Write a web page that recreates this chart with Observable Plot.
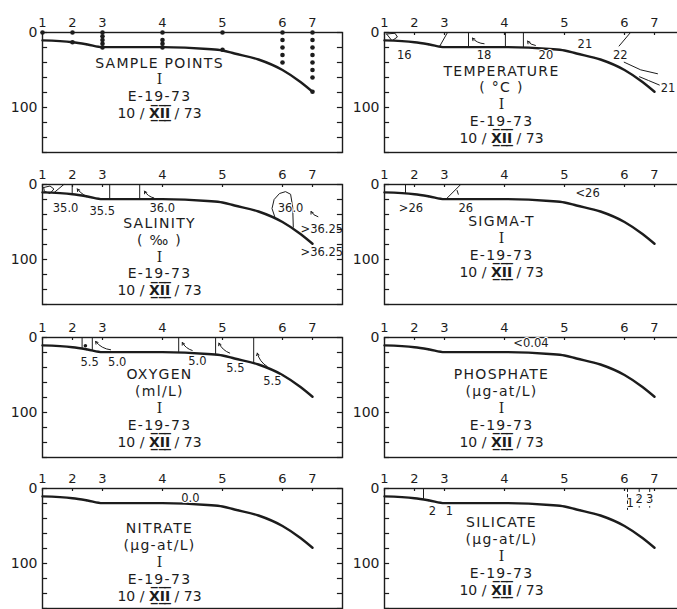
<!DOCTYPE html>
<html><head><meta charset="utf-8">
<script src="https://cdn.jsdelivr.net/npm/d3@7"></script>
<script src="https://cdn.jsdelivr.net/npm/@observablehq/plot@0.6"></script>
<style>
body{margin:0;background:#fff;}
#wrap{position:relative;width:677px;height:609px;overflow:hidden;background:#fff;}
#wrap svg{position:absolute;overflow:visible;}
</style></head><body><div id="wrap"></div>
<script>
// ---- data ----
const stationLabels = ["1","2","3","4","5","6","7"];
const stationDist = [0,10,20,40,60,80,90];
const depthTicks = [0,20,40,60,80,100,120,140,160];
const depthLabels = [0,100];
const bottomDist  = [0,10,15,20,40,55,60,64,72,80,86,90];
const bottomDepth = [10.5,13,16,19.5,19.5,22,24,28,36,50,66,79];

const panelTitles = ["SAMPLE POINTS","TEMPERATURE","SALINITY","SIGMA-T","OXYGEN","PHOSPHATE","NITRATE","SILICATE"];
const panelUnits  = ["","( °C )","( ‰ )","","(ml/L)","(μg-at/L)","(μg-at/L)","(μg-at/L)"];
const cruiseMark = "I";
const cruiseId = "E-19-73";
const cruiseDateParts = ["10 / ","X\u0332\u0305I\u0332\u0305I\u0332\u0305"," / 73"];
const cruiseDate = cruiseDateParts.join("");

// sample points: [station index, depth]
const sampleStation = [0, 1,1, 2,2,2,2,2, 3,3,3,3, 4,4, 5,5,5,5,5, 6,6,6,6,6,6,6,6];
const sampleDepth   = [0, 0,13, 0,5,10,15,20, 0,10,15,20, 0,23, 0,10,20,30,40, 0,10,20,30,40,50,60,79];

// temperature
const tempLines = [
  [[0.7,2],[3.5,1],[4.3,6],[2.5,11],[0.7,2]],
  [[21,0],[18.3,19]],
  [[28,0],[28,19.5]],
  [[40.3,0],[40.3,19.5]],
  [[46.3,0],[46.3,20]],
  [[82,0],[78.2,18]],
  [[79.9,39.6],[85.4,49.8],[91,55]],
  [[85,59],[88,64],[91.6,70]]
];
const tempArrows = [[33.2,15,29.3,7.5],[50.3,17.3,47.7,11.6]];
const tempLabels = [["16",6.6,30.7],["18",33.2,30.7],["20",53.8,30.5],["21",66.8,16.4],["22",78.6,29.8],["21",94.5,73.8]];

// salinity
const salLines = [
  [[0.4,4],[2.5,2],[3.8,6],[2.5,12],[0.6,9],[0.4,4]],
  [[3.8,11],[7.1,0]],
  [[9.9,0],[9.9,13]],
  [[22.4,0],[22.4,19.5]],
  [[32.4,0],[32.4,19.5]],
  [[77.5,44],[76.5,32],[77.2,20],[79,12],[81,9.5],[82.7,13],[83.4,30],[83.6,57]]
];
const salArrows = [[16.6,17.9,11.6,5.9],[37.1,17.9,34,8.9],[91.8,43,89.5,36]];
const salLabels = [["35.0",7.7,32],["35.5",19.9,35.6],["36.0",39.9,32],["36.0",82.7,32]];
const salLabelsRight = [[">36.25",86,60],[">36.25",86,91]];

// sigma-t
const sigLines = [[[7,1],[7,12]],[[25.4,0],[20.4,20]],[[24.2,8],[24.6,13]]];
const sigLabels = [[">26",8.8,31.1],["26",27.1,31.1],["<26",67.7,11.1]];

// oxygen
const oxyLines = [[[13.2,0],[13.2,14]],[[16.6,0],[16.6,16]],[[45.4,0],[45.4,20]],[[57.7,0],[57.7,23]],[[70.4,0],[70.4,34]]];
const oxyArrows = [[22.7,16.4,17.7,5.3],[49.9,17.3,46.6,6.7],[62.4,20.8,58.8,7.5],[74.9,38.7,71.6,20.8]];
const oxyLabels = [["5.5",15.7,33.5],["5.0",24.9,33.5],["5.0",51.6,31.7],["5.5",64.3,40.8],["5.5",76.6,58.5]];

// phosphate / nitrate
const phoLabels = [["<0.04",48.8,8.4]];
const nitLabels = [["0.0",49.3,13.7]];

// silicate
const silLines = [[[13,0],[13,13]]];
const silDashed = [[[81,0],[81,30]],[[84.9,0],[84.9,25]],[[88.4,0],[88.4,25]]];
const silLabels = [["2",16,31],["1",21.6,31],["1",81.9,20.4],["2",84.9,15],["3",88.4,15]];

// ---- layout ----
const ink = "#1c1c1c";
const rowAxisY = [32, 184, 337, 488];
const colLeft = [0, 342];
const textTop = [31, 41.5, 42, 40, 40, 40, 44, 36];

const flat = ls => ls.flatMap((pts,g)=>pts.map(([x,y])=>({g,x,y})));
const arr = a => a.map(([x1,y1,x2,y2])=>({x1,y1,x2,y2}));
const lab = a => a.map(([t,x,y])=>({t,x,y}));
const bottom = bottomDist.map((d,i)=>({x:d,y:bottomDepth[i]}));

const extras = [
  {},
  {lines:tempLines, arrows:tempArrows, labels:tempLabels},
  {lines:salLines, arrows:salArrows, labels:salLabels, labelsStart:salLabelsRight},
  {lines:sigLines, labels:sigLabels},
  {lines:oxyLines, arrows:oxyArrows, labels:oxyLabels, dots:[[14.3,11]]},
  {labels:phoLabels},
  {labels:nitLabels},
  {lines:silLines, dashed:silDashed, labels:silLabels}
];

const wrap = document.getElementById("wrap");
panelTitles.forEach((title, i) => {
  const row = Math.floor(i/2), col = i%2;
  const ex = extras[i];
  const block = [title, panelUnits[i], cruiseMark, cruiseId, cruiseDate].filter(s=>s!=="").join("\n");
  const marks = [
    Plot.frame({stroke: ink, strokeWidth: 1.4}),
    Plot.axisX(stationDist, {anchor:"top", label: null, tickSize:0, tickPadding:6, fontSize:13,
      tickFormat: d => stationLabels[stationDist.indexOf(d)]}),
    Plot.axisY(depthLabels, {anchor:"left", label: null, tickSize:0, tickPadding:5, fontSize:14, tickFormat: d=>String(d)}),
    Plot.ruleY(depthTicks, {y: d=>d, x1: 0, x2: 1.7, stroke: ink, strokeWidth: 1.2}),
    Plot.ruleY(depthTicks, {y: d=>d, x1: 98.3, x2: 100, stroke: ink, strokeWidth: 1.2}),
    Plot.line(bottom, {x:"x", y:"y", stroke: ink, strokeWidth: 2.4, curve: "monotone-x"}),
    Plot.text([block], {x: 39, y: textTop[i], text: d=>d, lineAnchor:"top",
      fontSize: 14, lineHeight: 1.2, fill: ink})
  ];
  if (i === 0) {
    marks.push(Plot.dot(sampleStation.map((s,k)=>({x:stationDist[s], y:sampleDepth[k]})),
      {x:"x", y:"y", r:2.3, fill: ink, stroke: "none"}));
  } else {
    marks.push(Plot.ruleX(stationDist, {x:d=>d, y1:0, y2:4, stroke: ink, strokeWidth: 1.2}));
  }
  if (ex.lines) marks.push(Plot.line(flat(ex.lines), {x:"x", y:"y", z:"g", stroke: ink, strokeWidth: 1}));
  if (ex.dashed) marks.push(Plot.line(flat(ex.dashed), {x:"x", y:"y", z:"g", stroke: ink, strokeWidth: 1, strokeDasharray: "3,3"}));
  if (ex.arrows) marks.push(Plot.arrow(arr(ex.arrows), {x1:"x1", y1:"y1", x2:"x2", y2:"y2", bend: true, headLength: 4, stroke: ink, strokeWidth: 1}));
  if (ex.dots) marks.push(Plot.dot(ex.dots.map(([x,y])=>({x,y})), {x:"x", y:"y", r:1.8, fill: ink}));
  if (ex.labels) marks.push(Plot.text(lab(ex.labels), {x:"x", y:"y", text:"t", fontSize: 11.5, fill: ink, stroke:"white", strokeWidth: 2}));
  if (ex.labelsStart) marks.push(Plot.text(lab(ex.labelsStart), {x:"x", y:"y", text:"t", fontSize: 11.5, fill: ink, textAnchor:"start"}));

  const svg = Plot.plot({
    width: 345, height: 155,
    marginLeft: 42, marginRight: 3, marginTop: 32, marginBottom: 3,
    x: {domain: [0,100], axis: null},
    y: {domain: [0,160], reverse: true, axis: null},
    style: {fontFamily: "'DejaVu Sans', sans-serif", color: ink, background: "transparent", overflow: "visible"},
    marks
  });
  svg.style.left = colLeft[col] + "px";
  svg.style.top = (rowAxisY[row] - 32) + "px";
  const sel = d3.select(svg);
  sel.selectAll("tspan").filter(function(){ return this.textContent === title || this.textContent === panelUnits[i] || this.textContent === cruiseId; })
    .attr("letter-spacing", "1.3px");
  sel.selectAll("tspan").filter(function(){ return this.textContent === cruiseMark; })
    .attr("font-family", "'DejaVu Serif', serif");
  sel.selectAll("tspan").filter(function(){ return this.textContent === cruiseDate; })
    .each(function(){
      const t = d3.select(this);
      t.text(null);
      t.append("tspan").text(cruiseDateParts[0]);
      t.append("tspan").text(cruiseDateParts[1]).attr("font-weight","bold");
      t.append("tspan").text(cruiseDateParts[2]);
    });
  wrap.appendChild(svg);
});
</script></body></html>
